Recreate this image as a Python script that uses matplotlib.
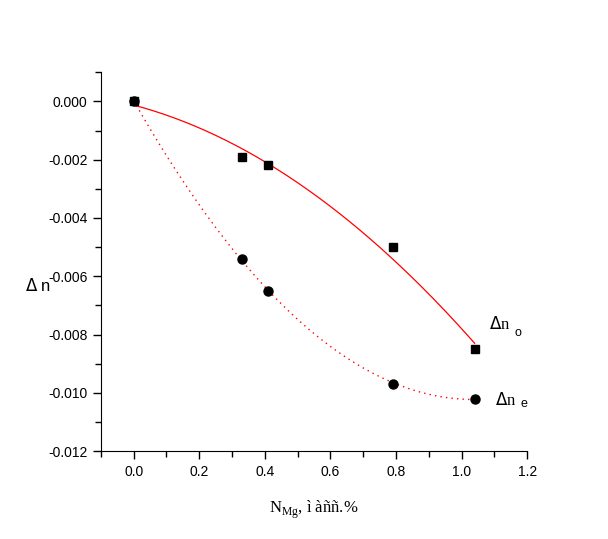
import numpy as np
import matplotlib.pyplot as plt

# N_Mg values and birefringence changes
x_o = [0.0, 0.33, 0.41, 0.79, 1.04]
dn_o = [0.0, -0.0019, -0.0022, -0.0050, -0.0085]
x_e = [0.0, 0.33, 0.41, 0.79, 1.04]
dn_e = [0.0, -0.0054, -0.0065, -0.0097, -0.0102]

plt.rcParams['font.family'] = ['Liberation Sans', 'DejaVu Sans']

fig = plt.figure(figsize=(6.08, 5.39), dpi=100)
ax = fig.add_axes([0.166, 0.163, 0.701, 0.703])

# quadratic fits
xs = np.linspace(0, 1.04, 200)
p_o = np.polyfit(x_o, dn_o, 2)
p_e = np.polyfit(x_e, dn_e, 2)
ax.plot(xs, np.polyval(p_o, xs), "-", color="red", lw=0.9)
ax.plot(xs, np.polyval(p_e, xs), color="red", lw=1.0, ls=(0, (1, 3)))

ax.plot(x_o, dn_o, "s", color="black", ms=6)
ax.plot(x_e, dn_e, "o", color="black", ms=6.5)

ax.set_xlim(-0.1, 1.2)
ax.set_ylim(-0.012, 0.001)
ax.set_xticks(np.arange(0, 1.21, 0.2))
ax.set_xticks(np.arange(-0.1, 1.21, 0.1), minor=True)
ax.set_yticks(np.arange(-0.012, 0.0001, 0.002))
ax.set_yticks(np.arange(-0.012, 0.0011, 0.001), minor=True)
ax.xaxis.set_major_formatter(plt.FormatStrFormatter("%.1f"))
ax.yaxis.set_major_formatter(plt.FormatStrFormatter("%.3f"))
ax.tick_params(which="both", direction="out", labelsize=10, width=1)
ax.tick_params(which="major", length=6)
ax.tick_params(which="minor", length=4)
ax.tick_params(axis="x", pad=4)
for s in ["top", "right"]:
    ax.spines[s].set_visible(False)

ax.set_xlabel(r"N$_{\mathregular{Mg}}$, ì àññ.%", family="Liberation Serif",
              fontsize=12)
ax.xaxis.set_label_coords(0.5, -0.125)
ax.set_ylabel(r"$\Delta$ n", rotation=0, fontsize=12, ha="center", va="center")
ax.yaxis.set_label_coords(-0.148, 0.438)

ax.text(1.084, -0.0078, r"$\Delta$n", fontsize=12, family="Liberation Serif")
ax.text(1.16, -0.00805, "o", fontsize=9)
ax.text(1.102, -0.0104, r"$\Delta$n", fontsize=12, family="Liberation Serif")
ax.text(1.18, -0.0105, "e", fontsize=9)

plt.savefig("out.png", dpi=100)
